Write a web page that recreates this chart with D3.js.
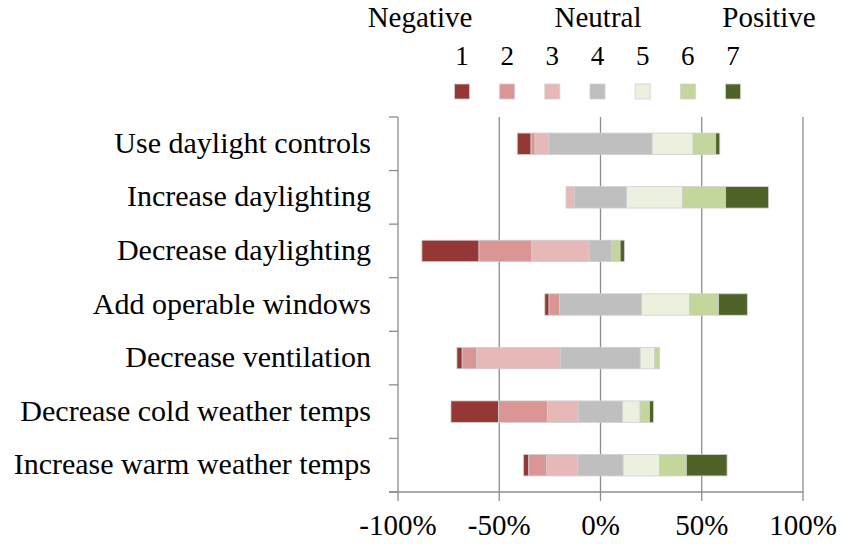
<!DOCTYPE html>
<html>
<head>
<meta charset="utf-8">
<script src="https://cdn.jsdelivr.net/npm/d3@7"></script>
</head>
<body style="margin:0">
<script>
var categories = ['Use daylight controls', 'Increase daylighting', 'Decrease daylighting',
  'Add operable windows', 'Decrease ventilation', 'Decrease cold weather temps',
  'Increase warm weather temps'];
var levels = ['1', '2', '3', '4', '5', '6', '7'];
var groupLabels = ['Negative', 'Neutral', 'Positive'];
var tickValues = [-1, -0.5, 0, 0.5, 1];

// share of answers (%) per level, one value per category
var level1 = [6.8, 0, 28.2, 2.1, 2.6, 23.5, 2.6];
var level2 = [2.0, 0, 26.1, 5.1, 7.2, 24.1, 8.8];
var level3 = [6.8, 4.2, 28.3, 0, 41.5, 15.4, 15.4];
var level4 = [51.0, 25.6, 11.2, 40.6, 39.2, 21.7, 22.4];
var level5 = [20.2, 27.7, 0, 23.7, 7.2, 8.7, 17.9];
var level6 = [11.2, 21.3, 4.1, 14.3, 2.3, 4.6, 13.3];
var level7 = [2.0, 21.2, 2.1, 14.2, 0, 2.0, 20.1];

var colors = ['#953735', '#da9694', '#e6b9b8', '#bfbfbf', '#ebf1de', '#c3d69b', '#4f6228'];
var fontName = '"Liberation Serif"';

var width = 842, height = 544;
var series = [level1, level2, level3, level4, level5, level6, level7];

var svg = d3.select('body').append('svg')
  .attr('width', width)
  .attr('height', height);

var x = d3.scaleLinear().domain([-1, 1]).range([398, 803]);
var y = d3.scaleBand().domain(categories).range([117, 492])
  .paddingInner(0.6).paddingOuter(0.3);

// gridlines
svg.append('g').selectAll('line')
  .data(tickValues.slice(1))
  .enter().append('line')
  .attr('x1', function(d){ return x(d); })
  .attr('x2', function(d){ return x(d); })
  .attr('y1', 117).attr('y2', 492)
  .attr('stroke', '#8c8c8c').attr('stroke-width', 1.3);

// bars
var rows = categories.map(function(c, i){
  var vals = series.map(function(s){ return s[i] / 100; });
  var start = -(vals[0] + vals[1] + vals[2] + vals[3] / 2);
  var segs = [];
  vals.forEach(function(v, k){
    segs.push({cat: c, level: k, x0: start, x1: start + v});
    start += v;
  });
  return segs;
});

svg.append('g').selectAll('g')
  .data(rows)
  .enter().append('g')
  .selectAll('rect')
  .data(function(d){ return d.filter(function(s){ return s.x1 > s.x0; }); })
  .enter().append('rect')
  .attr('x', function(d){ return x(d.x0); })
  .attr('width', function(d){ return x(d.x1) - x(d.x0); })
  .attr('y', function(d){ return y(d.cat); })
  .attr('height', y.bandwidth())
  .attr('fill', function(d){ return colors[d.level]; })
  .attr('stroke', '#cfcfcf')
  .attr('stroke-width', 0.8);

// y axis
var yAxis = svg.append('g');
yAxis.append('line')
  .attr('x1', 398).attr('x2', 398).attr('y1', 117).attr('y2', 492)
  .attr('stroke', '#8c8c8c').attr('stroke-width', 1.3);
var step = y.step();
yAxis.selectAll('.tick')
  .data(d3.range(categories.length + 1))
  .enter().append('line')
  .attr('x1', 389).attr('x2', 398)
  .attr('y1', function(i){ return 117 + i * step; })
  .attr('y2', function(i){ return 117 + i * step; })
  .attr('stroke', '#8c8c8c').attr('stroke-width', 1.3);
yAxis.selectAll('text')
  .data(categories)
  .enter().append('text')
  .attr('x', 371)
  .attr('y', function(d){ return y(d) + y.bandwidth() / 2 + 9; })
  .attr('text-anchor', 'end')
  .attr('font-size', 30)
  .style('font-family', fontName)
  .text(function(d){ return d; });

// x axis
var xAxis = svg.append('g');
xAxis.append('line')
  .attr('x1', 389).attr('x2', 803).attr('y1', 492).attr('y2', 492)
  .attr('stroke', '#8c8c8c').attr('stroke-width', 1.3);
xAxis.selectAll('.tick')
  .data(tickValues)
  .enter().append('line')
  .attr('x1', function(d){ return x(d); })
  .attr('x2', function(d){ return x(d); })
  .attr('y1', 492).attr('y2', 501)
  .attr('stroke', '#8c8c8c').attr('stroke-width', 1.3);
xAxis.selectAll('text')
  .data(tickValues)
  .enter().append('text')
  .attr('x', function(d){ return x(d); })
  .attr('y', 535)
  .attr('text-anchor', 'middle')
  .attr('font-size', 29)
  .style('font-family', fontName)
  .text(function(d){ return Math.round(d * 100) + '%'; });

// legend
var legendX = d3.scalePoint().domain(levels).range([462, 733]);
var legend = svg.append('g');
legend.selectAll('.num')
  .data(levels)
  .enter().append('text')
  .attr('x', function(d){ return legendX(d); })
  .attr('y', 65)
  .attr('text-anchor', 'middle')
  .attr('font-size', 27)
  .style('font-family', fontName)
  .text(function(d){ return d; });
legend.selectAll('rect')
  .data(levels)
  .enter().append('rect')
  .attr('x', function(d){ return legendX(d) - 7.5; })
  .attr('y', 84)
  .attr('width', 15).attr('height', 15)
  .attr('fill', function(d, i){ return colors[i]; })
  .attr('stroke', '#cfcfcf').attr('stroke-width', 0.8);
legend.selectAll('.grp')
  .data(groupLabels)
  .enter().append('text')
  .attr('x', function(d, i){ return [420, 598, 769][i]; })
  .attr('y', 27)
  .attr('text-anchor', 'middle')
  .attr('font-size', 29)
  .style('font-family', fontName)
  .text(function(d){ return d; });
</script>
</body>
</html>
